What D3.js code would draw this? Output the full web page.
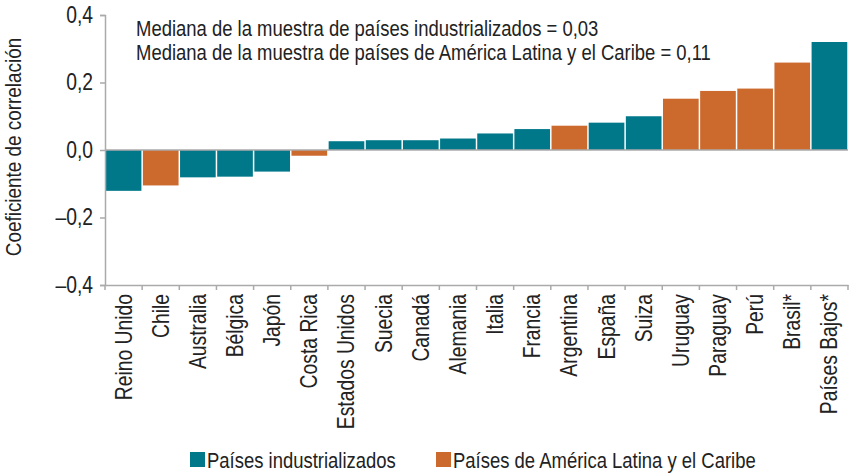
<!DOCTYPE html>
<html>
  <head>
    <meta charset="utf-8">
    <script src="https://d3js.org/d3.v7.min.js"></script>
    <style>
      body { margin: 0; background: #fff; }
      text { font-family: "Liberation Sans", Arial, sans-serif; fill: #222; }
    </style>
  </head>
  <body>
    <script>
      // Data
      const countries = ["Reino Unido", "Chile", "Australia", "Bélgica", "Japón", "Costa Rica",
        "Estados Unidos", "Suecia", "Canadá", "Alemania", "Italia", "Francia", "Argentina",
        "España", "Suiza", "Uruguay", "Paraguay", "Perú", "Brasil*", "Países Bajos*"];
      const values = [-0.121, -0.105, -0.081, -0.079, -0.064, -0.017, 0.026, 0.029, 0.029, 0.034,
        0.049, 0.062, 0.072, 0.081, 0.100, 0.152, 0.175, 0.182, 0.259, 0.320];
      const groups = ["ind", "lac", "ind", "ind", "ind", "lac", "ind", "ind", "ind", "ind",
        "ind", "ind", "lac", "ind", "ind", "lac", "lac", "lac", "lac", "ind"];
      const groupNames = ["Países industrializados", "Países de América Latina y el Caribe"];
      const yTicks = [-0.4, -0.2, 0.0, 0.2, 0.4];
      const notes = ["Mediana de la muestra de países industrializados = 0,03",
        "Mediana de la muestra de países de América Latina y el Caribe = 0,11"];

      const width = 850, height = 474;
      const margin = { left: 105, right: 2, top: 15, bottom: 189 };
      const narrow = 0.84; // horizontal squeeze to mimic a condensed face
      const color = d3.scaleOrdinal().domain(["ind", "lac"]).range(["#00788a", "#cc6a2e"]);
      const fmt = v => (v < 0 ? "\u2013" : "") + Math.abs(v).toFixed(1).replace(".", ",");

      const svg = d3.select("body").append("svg")
        .attr("width", width).attr("height", height);

      const x = d3.scaleBand()
        .domain(countries)
        .range([margin.left, width - margin.right])
        .paddingInner(0.04).paddingOuter(0.02);
      const y = d3.scaleLinear()
        .domain([-0.4, 0.4])
        .range([height - margin.bottom, margin.top]);

      // Bars
      svg.selectAll("rect.bar")
        .data(values)
        .enter()
        .append("rect")
        .attr("class", "bar")
        .attr("x", (d, i) => x(countries[i]))
        .attr("width", x.bandwidth())
        .attr("y", d => y(Math.max(0, d)))
        .attr("height", d => Math.abs(y(d) - y(0)))
        .attr("fill", (d, i) => color(groups[i]));

      // Zero line
      svg.append("line")
        .attr("x1", margin.left).attr("x2", width - margin.right)
        .attr("y1", y(0)).attr("y2", y(0))
        .attr("stroke", "#aaa").attr("stroke-width", 1.5);

      // Y axis
      const yAxis = svg.append("g")
        .attr("transform", `translate(${margin.left},0)`)
        .call(d3.axisLeft(y).tickValues(yTicks).tickFormat(fmt).tickSize(5).tickPadding(0));
      yAxis.select(".domain").attr("stroke", "#aaa").attr("stroke-width", 1.5);
      yAxis.selectAll(".tick line").attr("stroke", "#aaa").attr("stroke-width", 1.5);
      yAxis.selectAll(".tick text")
        .style("font-size", "23px").attr("fill", "#222")
        .attr("x", 0).attr("dy", "0.32em")
        .attr("transform", `translate(-12,0) scale(${narrow},1)`);

      // X axis
      const xAxis = svg.append("g")
        .attr("transform", `translate(0,${y(-0.4)})`)
        .call(d3.axisBottom(x).tickSize(0).tickPadding(0));
      xAxis.select(".domain").attr("stroke", "#aaa").attr("stroke-width", 1.5);
      const edges = countries.map((c, i) => margin.left + i * (width - margin.right - margin.left) / countries.length);
      edges.push(width - margin.right);
      xAxis.selectAll("line.sep")
        .data(edges)
        .enter()
        .append("line")
        .attr("class", "sep")
        .attr("x1", d => d).attr("x2", d => d)
        .attr("y1", 0).attr("y2", 5)
        .attr("stroke", "#aaa").attr("stroke-width", 1.5);
      xAxis.selectAll(".tick text")
        .style("font-size", "23px")
        .attr("fill", "#222")
        .attr("text-anchor", "end")
        .attr("transform", `translate(8,9) rotate(-90) scale(${narrow},1)`)
        .attr("x", 0).attr("y", 0).attr("dy", 0);

      // Y title
      svg.append("text")
        .attr("transform", `translate(21,${y(0) - 3}) rotate(-90) scale(${narrow},1)`)
        .attr("text-anchor", "middle")
        .style("font-size", "22.5px")
        .text("Coeficiente de correlación");

      // Notes
      svg.selectAll("text.note")
        .data(notes)
        .enter()
        .append("text")
        .attr("class", "note")
        .attr("transform", (d, i) => `translate(136,${36 + i * 24}) scale(${narrow},1)`)
        .style("font-size", "22px")
        .text(d => d);

      // Legend
      const legendX = [190, 436];
      const legend = svg.selectAll("g.legend")
        .data(groupNames)
        .enter()
        .append("g")
        .attr("class", "legend")
        .attr("transform", (d, i) => `translate(${legendX[i]},452)`);
      legend.append("rect")
        .attr("width", 15).attr("height", 15)
        .attr("fill", (d, i) => color(["ind", "lac"][i]));
      legend.append("text")
        .attr("transform", `translate(17,16) scale(${narrow},1)`)
        .style("font-size", "22px")
        .text(d => d);
    </script>
  </body>
</html>
